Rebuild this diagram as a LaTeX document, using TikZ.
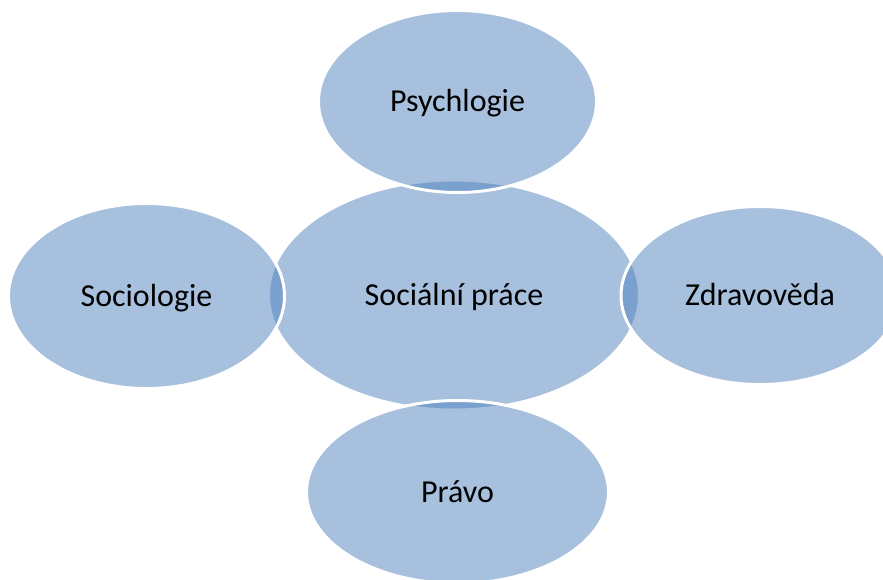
\documentclass[tikz,border=0pt]{standalone}
\usepackage{fontspec}
\setmainfont{Carlito}
\usetikzlibrary{shapes.geometric}
\definecolor{accblue}{HTML}{4F81BD}
\tikzset{
  bubble/.style={ellipse, draw=white, line width=3pt, fill=accblue, fill opacity=0.5,
    text opacity=1, text=black, inner sep=0pt, text height=27pt, text depth=7pt,
    font=\fontsize{32}{38}\selectfont}
}
\begin{document}
\begin{tikzpicture}[x=1pt,y=-1pt]
\useasboundingbox (0,0) rectangle (883,579);
\clip (0,0) rectangle (883,579);
\node[bubble, minimum width=371pt, minimum height=230pt] (center) at (454,295) {Sociální práce};
\node[bubble, minimum width=278pt, minimum height=182pt] (top) at (457.5,101.5) {Psychlogie};
\node[bubble, minimum width=276pt, minimum height=185pt] (left) at (146.5,296) {Sociologie};
\node[bubble, minimum width=278pt, minimum height=178pt] (right) at (760,295.5) {Zdravověda};
\node[bubble, minimum width=302pt, minimum height=183pt] (bottom) at (457.5,492) {Právo};
\end{tikzpicture}
\end{document}
